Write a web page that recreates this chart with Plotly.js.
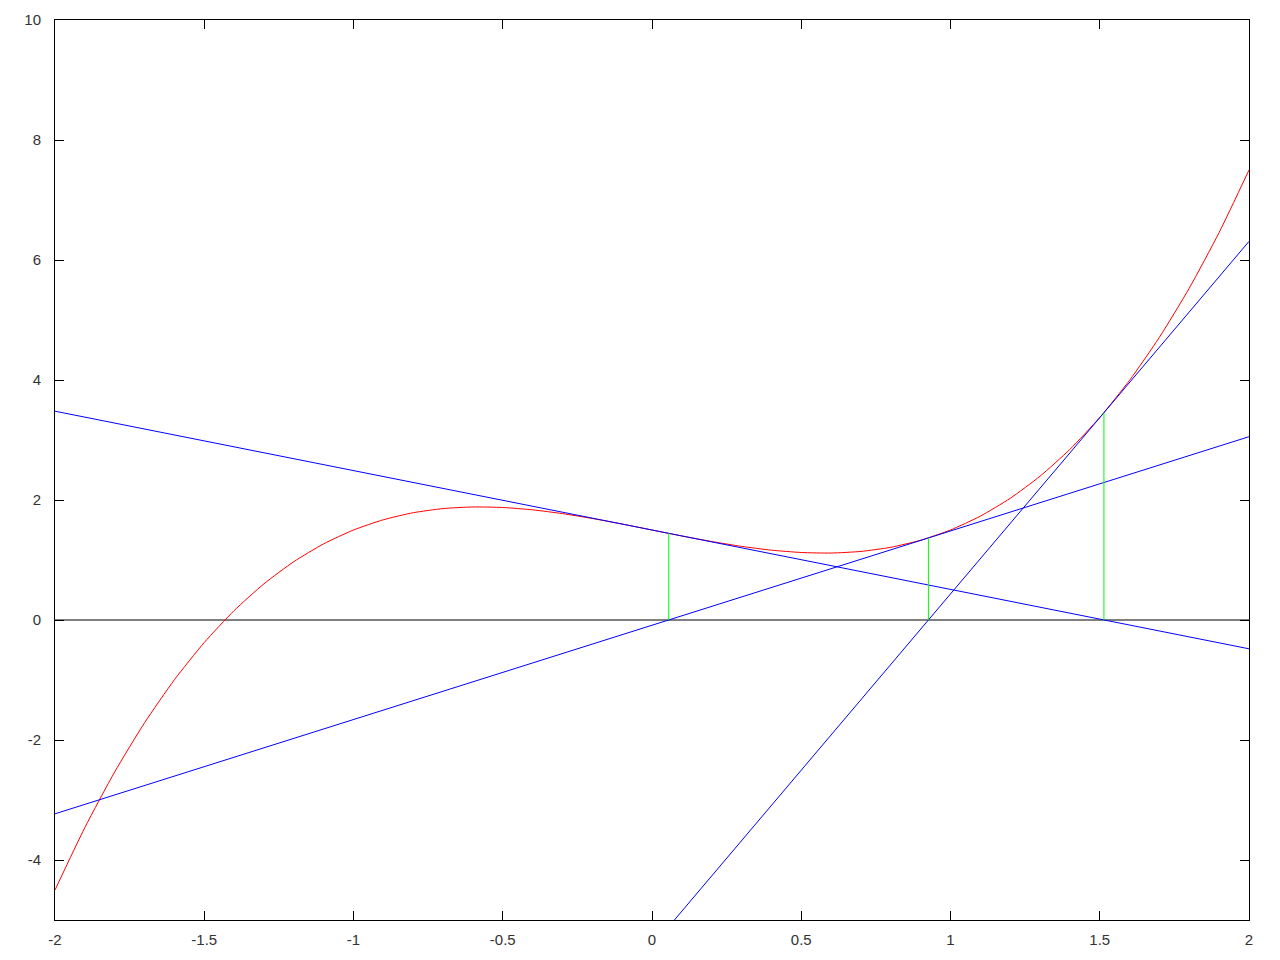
<!DOCTYPE html>
<html>
<head>
<meta charset="utf-8">
<script src="https://cdn.plot.ly/plotly-3.0.1.min.js"></script>
<style>html,body{margin:0;padding:0;background:#fff;}#chart{width:1280px;height:960px;}</style>
</head>
<body>
<div id="chart"></div>
<script>
// Red curve samples
const curveX = [-2,-1.9,-1.8,-1.7,-1.6,-1.5,-1.4,-1.3,-1.2,-1.1,-1,-0.9,-0.8,-0.7,-0.6,-0.5,-0.4,-0.3,-0.2,-0.1,0,0.1,0.2,0.3,0.4,0.5,0.6,0.7,0.8,0.9,1,1.1,1.2,1.3,1.4,1.5,1.6,1.7,1.8,1.9,2];
const curveY = [-4.5,-3.459,-2.532,-1.713,-0.996,-0.375,0.156,0.603,0.972,1.269,1.5,1.671,1.788,1.857,1.884,1.875,1.836,1.773,1.692,1.599,1.5,1.401,1.308,1.227,1.164,1.125,1.116,1.143,1.212,1.329,1.5,1.731,2.028,2.397,2.844,3.375,3.996,4.713,5.532,6.459,7.5];

// Tangent lines (endpoints)
const tan1X = [0.075, 2];   const tan1Y = [-5, 6.31];
const tan2X = [-2, 2];      const tan2Y = [-3.23, 3.055];
const tan3X = [-2, 2];      const tan3Y = [3.48, -0.48];

// Vertical green lines
const vertX = [1.514, 0.926, 0.056];
const vertY = [3.457, 1.368, 1.444];

// Zero line
const zeroX = [-2, 2]; const zeroY = [0, 0];

// Ticks
const xTickVals = [-2,-1.5,-1,-0.5,0,0.5,1,1.5,2];
const xTickText = ["-2","-1.5","-1","-0.5","0","0.5","1","1.5","2"];
const yTickVals = [-4,-2,0,2,4,6,8,10];
const yTickText = ["-4","-2","0","2","4","6","8","10"];

const traces = [];
traces.push({x: zeroX, y: zeroY, mode:'lines', line:{color:'#000000', width:1}, hoverinfo:'skip'});
traces.push({x: curveX, y: curveY, mode:'lines', line:{color:'#ff0000', width:1, shape:'spline', smoothing:0.6}, hoverinfo:'skip'});
[[tan1X,tan1Y],[tan2X,tan2Y],[tan3X,tan3Y]].forEach(([x,y]) => {
  traces.push({x:x, y:y, mode:'lines', line:{color:'#0000ff', width:1}, hoverinfo:'skip'});
});
vertX.forEach((vx,i) => {
  traces.push({x:[vx,vx], y:[0, vertY[i]], mode:'lines', line:{color:'#00ff00', width:1}, hoverinfo:'skip'});
});

const axisCommon = {
  showgrid:false, zeroline:false, showline:true, linecolor:'#000', linewidth:1,
  mirror:'allticks', ticks:'inside', ticklen:9, tickwidth:1, tickcolor:'#000',
  tickfont:{family:'Liberation Sans, Arial, sans-serif', size:15, color:'#333'},
  tickmode:'array'
};

const layout = {
  width:1280, height:960,
  margin:{l:55, r:31, t:20, b:40, pad:0},
  paper_bgcolor:'#fff', plot_bgcolor:'#fff',
  showlegend:false,
  xaxis: Object.assign({}, axisCommon, {range:[-2,2], tickvals:xTickVals, ticktext:xTickText, ticklabelstandoff:6}),
  yaxis: Object.assign({}, axisCommon, {range:[-5,10], tickvals:yTickVals, ticktext:yTickText, ticklabelstandoff:10})
};

Plotly.newPlot('chart', traces, layout, {staticPlot:true, displayModeBar:false});
</script>
</body>
</html>
